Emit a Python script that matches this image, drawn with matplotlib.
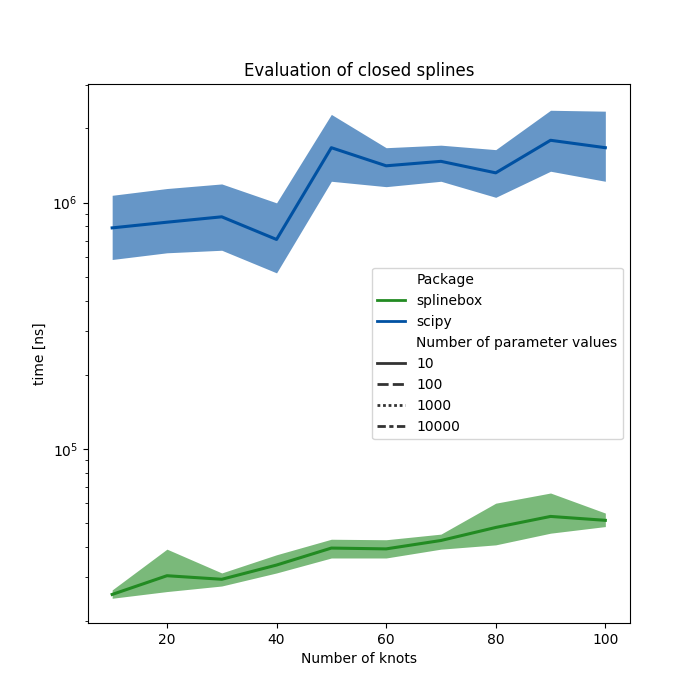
import numpy as np
import matplotlib
matplotlib.use("Agg")
import matplotlib.pyplot as plt
from matplotlib.lines import Line2D

# data (time in ns)
knots = [10, 20, 30, 40, 50, 60, 70, 80, 90, 100]

scipy_mean = [7.89e5, 8.32e5, 8.75e5, 7.08e5, 1.67e6, 1.41e6, 1.47e6, 1.32e6, 1.79e6, 1.67e6]
scipy_hi = [1.07e6, 1.14e6, 1.19e6, 9.97e5, 2.28e6, 1.67e6, 1.71e6, 1.64e6, 2.37e6, 2.35e6]
scipy_lo = [5.87e5, 6.25e5, 6.40e5, 5.18e5, 1.22e6, 1.16e6, 1.22e6, 1.05e6, 1.34e6, 1.22e6]

sbox_mean = [2.56e4, 3.05e4, 2.95e4, 3.37e4, 3.95e4, 3.92e4, 4.24e4, 4.79e4, 5.31e4, 5.12e4]
sbox_hi = [2.67e4, 3.91e4, 3.13e4, 3.71e4, 4.29e4, 4.27e4, 4.50e4, 6.01e4, 6.61e4, 5.48e4]
sbox_lo = [2.47e4, 2.63e4, 2.77e4, 3.13e4, 3.60e4, 3.60e4, 3.91e4, 4.07e4, 4.54e4, 4.83e4]

packages = ['splinebox', 'scipy']
n_params = ['10', '100', '1000', '10000']

col = {'splinebox': '#228B22', 'scipy': '#0051A2'}
dash_styles = ['-', (0, (4, 1.5)), (0, (1, 1)), (0, (3, 1.25, 1.5, 1.25))]

fig, ax = plt.subplots(figsize=(7, 7), dpi=100)

series = {'splinebox': (sbox_mean, sbox_lo, sbox_hi),
          'scipy': (scipy_mean, scipy_lo, scipy_hi)}
for pkg in packages:
    m, lo, hi = series[pkg]
    ax.fill_between(knots, lo, hi, color=col[pkg], alpha=0.6, linewidth=0)
    ax.plot(knots, m, color=col[pkg], lw=2.2)

ax.set_yscale('log')
ax.set_ylim(1.96e4, 3.03e6)
ax.set_title('Evaluation of closed splines')
ax.set_xlabel('Number of knots')
ax.set_ylabel('time [ns]')

# legend like seaborn's hue + style legend
blank = Line2D([], [], linestyle='none')
handles = [blank]
labels = ['Package']
for pkg in packages:
    handles.append(Line2D([], [], color=col[pkg], lw=2))
    labels.append(pkg)
handles.append(blank)
labels.append('Number of parameter values')
for n, ls in zip(n_params, dash_styles):
    handles.append(Line2D([], [], color='#333333', lw=2, linestyle=ls))
    labels.append(n)
ax.legend(handles, labels, loc='center right')

plt.savefig('out.png', dpi=100)
